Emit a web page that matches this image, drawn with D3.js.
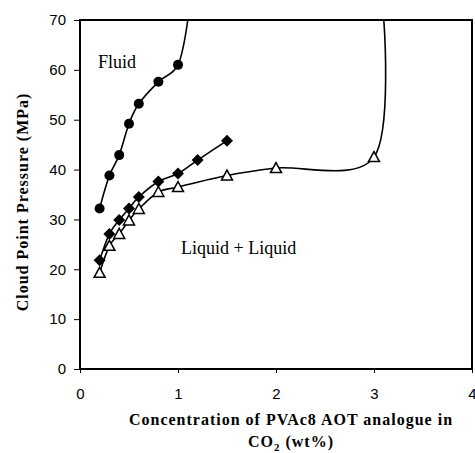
<!DOCTYPE html>
<html>
<head>
<meta charset="utf-8">
<script src="https://cdn.jsdelivr.net/npm/d3@7"></script>
<style>
body { margin: 0; background: #fff; }
</style>
</head>
<body>
<div id="chart"></div>
<script>
// data
var concFluid = [0.2, 0.3, 0.4, 0.5, 0.6, 0.8, 1.0];
var presFluid = [32.2, 38.8, 42.9, 49.2, 53.2, 57.6, 61.0];
var tailFluidX = [1.1];
var tailFluidY = [70];

var concDiamond = [0.2, 0.3, 0.4, 0.5, 0.6, 0.8, 1.0, 1.2, 1.5];
var presDiamond = [21.8, 27.1, 29.9, 32.2, 34.5, 37.6, 39.2, 41.9, 45.8];

var concTriangle = [0.2, 0.3, 0.4, 0.5, 0.6, 0.8, 1.0, 1.5, 2.0, 3.0];
var presTriangle = [19.3, 24.7, 27.1, 29.8, 32.1, 35.5, 36.5, 38.8, 40.3, 42.5];
var tailTriangleX = [3.1];
var tailTriangleY = [70];

var xTicks = [0, 1, 2, 3, 4];
var yTicks = [0, 10, 20, 30, 40, 50, 60, 70];

// chart parameters
var svgWidth = 475;
var svgHeight = 453;
var margin = {top: 20, right: 3, bottom: 84, left: 80};
var width = svgWidth - margin.left - margin.right;
var height = svgHeight - margin.top - margin.bottom;

var svg = d3.select('#chart')
	.append('svg')
	.attr('width', svgWidth)
	.attr('height', svgHeight)
	.append('g')
	.attr('transform', 'translate(' + margin.left + ',' + margin.top + ')');

var x = d3.scaleLinear().domain([0, 4]).range([0, width]);
var y = d3.scaleLinear().domain([0, 70]).range([height, 0]);

// axes
var xAxis = svg.append('g')
	.attr('transform', 'translate(0,' + height + ')')
	.call(d3.axisBottom(x).tickValues(xTicks).tickFormat(d3.format('d')).tickSize(4).tickPadding(15));
var yAxis = svg.append('g')
	.call(d3.axisLeft(y).tickValues(yTicks).tickFormat(d3.format('d')).tickSize(6).tickPadding(8));
[xAxis, yAxis].forEach(function (a) {
	a.select('.domain').remove();
	a.selectAll('line').attr('stroke', '#000').attr('stroke-width', 1);
	a.selectAll('text')
		.style('font-family', '"Liberation Sans", Arial, sans-serif')
		.style('font-size', '15px')
		.style('fill', '#000');
});

// frame
svg.append('rect')
	.attr('x', 0).attr('y', 0)
	.attr('width', width).attr('height', height)
	.attr('fill', 'none')
	.attr('stroke', '#000')
	.attr('stroke-width', 2);

svg.append('clipPath').attr('id', 'plotclip')
	.append('rect').attr('x', 0).attr('y', -1).attr('width', width).attr('height', height + 1);

var line = d3.line()
	.x(function (d) { return x(d[0]); })
	.y(function (d) { return y(d[1]); })
	.curve(d3.curveCardinal.tension(0));

function pts(xs, ys) {
	return xs.map(function (v, i) { return [v, ys[i]]; });
}

var fluidPts = pts(concFluid, presFluid);
var diamondPts = pts(concDiamond, presDiamond);
var trianglePts = pts(concTriangle, presTriangle);

var curves = svg.append('g').attr('clip-path', 'url(#plotclip)');
[fluidPts.concat(pts(tailFluidX, tailFluidY)),
 diamondPts,
 trianglePts.concat(pts(tailTriangleX, tailTriangleY))].forEach(function (p) {
	curves.append('path')
		.datum(p)
		.attr('d', line)
		.attr('fill', 'none')
		.attr('stroke', '#000')
		.attr('stroke-width', 1.6);
});

// markers
svg.append('g')
	.selectAll('circle')
	.data(fluidPts)
	.enter()
	.append('circle')
	.attr('cx', function (d) { return x(d[0]); })
	.attr('cy', function (d) { return y(d[1]); })
	.attr('r', 5)
	.attr('fill', '#000');

svg.append('g')
	.selectAll('path')
	.data(diamondPts)
	.enter()
	.append('path')
	.attr('transform', function (d) { return 'translate(' + x(d[0]) + ',' + y(d[1]) + ')'; })
	.attr('d', 'M0,-6L6,0L0,6L-6,0Z')
	.attr('fill', '#000');

svg.append('g')
	.selectAll('path')
	.data(trianglePts)
	.enter()
	.append('path')
	.attr('transform', function (d) { return 'translate(' + x(d[0]) + ',' + y(d[1]) + ')'; })
	.attr('d', 'M0,-5.5L5.5,4.5L-5.5,4.5Z')
	.attr('fill', '#fff')
	.attr('stroke', '#000')
	.attr('stroke-width', 1.5);

// region labels
svg.append('text')
	.attr('x', 18).attr('y', 48)
	.text('Fluid')
	.style('font-family', '"Liberation Serif", "Times New Roman", serif')
	.style('font-size', '18px');
svg.append('text')
	.attr('x', 101).attr('y', 234)
	.text('Liquid + Liquid')
	.style('font-family', '"Liberation Serif", "Times New Roman", serif')
	.style('font-size', '18px');

// axis titles
var titleFont = '"Liberation Serif", "Times New Roman", serif';
svg.append('text')
	.attr('text-anchor', 'middle')
	.attr('x', 211)
	.attr('y', height + 56)
	.text('Concentration of PVAc8 AOT analogue in')
	.style('font-family', titleFont)
	.style('font-weight', 'bold')
	.style('font-size', '16px')
	.style('letter-spacing', '1px');
var co2 = svg.append('text')
	.attr('text-anchor', 'middle')
	.attr('x', 211)
	.attr('y', height + 78)
	.style('font-family', titleFont)
	.style('font-weight', 'bold')
	.style('font-size', '16px')
	.style('letter-spacing', '1px');
co2.append('tspan').text('CO');
co2.append('tspan').attr('dy', 4).style('font-size', '11px').text('2');
co2.append('tspan').attr('dy', -4).text(' (wt%)');

svg.append('text')
	.attr('text-anchor', 'middle')
	.attr('transform', 'rotate(-90)')
	.attr('x', -182)
	.attr('y', -52)
	.text('Cloud Point Pressure (MPa)')
	.style('font-family', titleFont)
	.style('font-weight', 'bold')
	.style('font-size', '16px')
	.style('letter-spacing', '1px');
</script>
</body>
</html>
